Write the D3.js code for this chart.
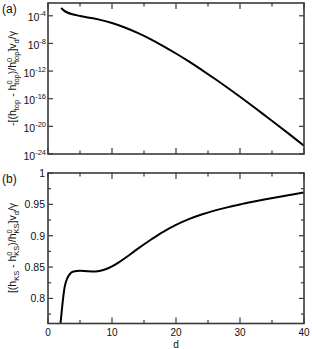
<!DOCTYPE html>
<html>
<head>
<meta charset="utf-8">
<script src="https://cdn.jsdelivr.net/npm/d3@7"></script>
<style>
  body { margin: 0; background: #fff; }
  svg { display: block; font-family: "Liberation Sans", Arial, sans-serif; }
</style>
</head>
<body>
<svg id="chart" width="312" height="349"></svg>
<script>
// panel (a): -[(h_top - h0_top)/h0_top] v_d / gamma, log scale
const dTop = [2.05, 2.5, 3, 4, 5, 6, 7, 8, 10, 12, 14, 16, 18, 20, 22, 24, 26, 28, 30, 32, 34, 36, 38, 40];
const valTop = [1.32e-3, 5.6e-4, 3.0e-4, 1.5e-4, 9.5e-5, 6.3e-5, 4.3e-5, 2.8e-5, 8.9e-6, 2.0e-6,
                3.3e-7, 4.2e-8, 4.2e-9, 3.5e-10, 2.5e-11, 1.5e-12, 8.3e-14, 4.2e-15, 1.9e-16,
                8.1e-18, 3.2e-19, 1.23e-20, 4.5e-22, 1.55e-23];

// panel (b): [(h_KS - h0_KS)/h0_KS] v_d / gamma
const dBot = [1.95, 2.1, 2.3, 2.6, 3.0, 3.5, 4, 5, 6, 7, 8, 9, 10, 11, 12, 14, 16, 18, 20, 22,
              24, 26, 28, 30, 32, 34, 36, 38, 40];
const valBot = [0.760, 0.775, 0.795, 0.818, 0.832, 0.840, 0.843, 0.844, 0.8435, 0.8428, 0.8438, 0.8465,
                0.851, 0.857, 0.864, 0.879, 0.8932, 0.9062, 0.9172, 0.9264, 0.9338, 0.940, 0.9452,
                0.9498, 0.954, 0.958, 0.9618, 0.9654, 0.9689];

const xMajor = [0, 10, 20, 30, 40];
const xMinor = [5, 15, 25, 35];
const topExps = [-24, -20, -16, -12, -8, -4];
const botMajor = [0.8, 0.85, 0.9, 0.95, 1];
const botMinor = [0.775, 0.825, 0.875, 0.925, 0.975];
const botLabels = ["0.8", "0.85", "0.9", "0.95", "1"];

const svg = d3.select("#chart");
const frameColor = "#3a3a3a";

const x = d3.scaleLinear().domain([0, 40]).range([48, 304]);
const yTop = d3.scaleLog().domain([1e-24, Math.pow(10, -2.15)]).range([154, 3]);
const yBot = d3.scaleLinear().domain([0.76, 1]).range([323.5, 173]);

function ticksX(g, y0, y1) {
    xMajor.concat(xMinor).forEach(v => {
        const len = xMajor.includes(v) ? 6 : 3.5;
        g.append("line").attr("x1", x(v)).attr("x2", x(v)).attr("y1", y1).attr("y2", y1 - len);
        g.append("line").attr("x1", x(v)).attr("x2", x(v)).attr("y1", y0).attr("y2", y0 + len);
    });
}

function ticksY(g, vals, sc, len) {
    vals.forEach(v => {
        g.append("line").attr("x1", 48).attr("x2", 48 + len).attr("y1", sc(v)).attr("y2", sc(v));
        g.append("line").attr("x1", 304).attr("x2", 304 - len).attr("y1", sc(v)).attr("y2", sc(v));
    });
}

// rotated label with sub/superscripts; parts: [text, "b"|"sub"|"stack"]
function axisLabel(cx, cy, parts) {
    const t = svg.append("text")
        .attr("transform", `translate(${cx},${cy}) rotate(-90)`)
        .attr("text-anchor", "middle")
        .attr("font-size", 10.5)
        .attr("fill", "#111");
    let shift = 0;
    parts.forEach(p => {
        if (p[1] === "b") {
            t.append("tspan").attr("dy", -shift).text(p[0]);
            shift = 0;
        } else if (p[1] === "sub") {
            t.append("tspan").attr("dy", 3 - shift).attr("font-size", 7.5).text(p[0]);
            shift = 3;
        } else if (p[1] === "stack") {
            t.append("tspan").attr("dy", -4.5 - shift).attr("font-size", 7.5).text("0");
            t.append("tspan").attr("dx", -4.2).attr("dy", 7.5).attr("font-size", 7.5).text(p[0]);
            shift = 3;
        }
    });
}

// ---------- panel (a)
const ga = svg.append("g");
const gaTicks = ga.append("g").attr("stroke", frameColor).attr("stroke-width", 1.2);
ticksX(gaTicks, 3, 154);
ticksY(gaTicks, topExps.map(e => Math.pow(10, e)), yTop, 5);

topExps.forEach(e => {
    const t = ga.append("text")
        .attr("x", 46)
        .attr("y", yTop(Math.pow(10, e)) + 5.5)
        .attr("text-anchor", "end")
        .attr("font-size", 10.5)
        .attr("fill", "#111");
    t.append("tspan").text("10");
    t.append("tspan").attr("dy", -5).attr("font-size", 7.5).text(e);
});

ga.append("clipPath").attr("id", "clipA")
    .append("rect").attr("x", 48).attr("y", 3).attr("width", 256).attr("height", 151);

ga.append("path")
    .datum(dTop.map((d, i) => [d, valTop[i]]))
    .attr("clip-path", "url(#clipA)")
    .attr("fill", "none")
    .attr("stroke", "#000")
    .attr("stroke-width", 2)
    .attr("d", d3.line().x(d => x(d[0])).y(d => yTop(d[1])).curve(d3.curveMonotoneX));

ga.append("rect").attr("x", 48).attr("y", 3).attr("width", 256).attr("height", 151)
    .attr("fill", "none").attr("stroke", frameColor).attr("stroke-width", 1.6);

svg.append("text").attr("x", 2).attr("y", 13).attr("font-size", 12).attr("fill", "#111").text("(a)");

axisLabel(16, 78.5, [["-[(h", "b"], ["top", "sub"], [" - h", "b"], ["top", "stack"],
    [")/h", "b"], ["top", "stack"], ["]v", "b"], ["d", "sub"], ["/γ", "b"]]);

// ---------- panel (b)
const gb = svg.append("g");
const gbTicks = gb.append("g").attr("stroke", frameColor).attr("stroke-width", 1.2);
ticksX(gbTicks, 173, 323.5);
ticksY(gbTicks, botMajor, yBot, 5);
ticksY(gbTicks, botMinor, yBot, 3);

botMajor.forEach((v, i) => {
    gb.append("text")
        .attr("x", 45)
        .attr("y", yBot(v) + 3.8)
        .attr("text-anchor", "end")
        .attr("font-size", 10.5)
        .attr("fill", "#111")
        .text(botLabels[i]);
});

xMajor.forEach(v => {
    gb.append("text")
        .attr("x", x(v))
        .attr("y", 336)
        .attr("text-anchor", "middle")
        .attr("font-size", 10)
        .attr("fill", "#111")
        .text(v);
});

gb.append("text").attr("x", 176).attr("y", 348).attr("text-anchor", "middle")
    .attr("font-size", 10).attr("fill", "#111").text("d");

gb.append("clipPath").attr("id", "clipB")
    .append("rect").attr("x", 48).attr("y", 173).attr("width", 256).attr("height", 150.5);

gb.append("path")
    .datum(dBot.map((d, i) => [d, valBot[i]]))
    .attr("clip-path", "url(#clipB)")
    .attr("fill", "none")
    .attr("stroke", "#000")
    .attr("stroke-width", 2)
    .attr("d", d3.line().x(d => x(d[0])).y(d => yBot(d[1])).curve(d3.curveMonotoneX));

gb.append("rect").attr("x", 48).attr("y", 173).attr("width", 256).attr("height", 150.5)
    .attr("fill", "none").attr("stroke", frameColor).attr("stroke-width", 1.6);

svg.append("text").attr("x", 2).attr("y", 183).attr("font-size", 12).attr("fill", "#111").text("(b)");

axisLabel(16, 248, [["[(h", "b"], ["KS", "sub"], [" - h", "b"], ["KS", "stack"],
    [")/h", "b"], ["KS", "stack"], ["]v", "b"], ["d", "sub"], ["/γ", "b"]]);
</script>
</body>
</html>
